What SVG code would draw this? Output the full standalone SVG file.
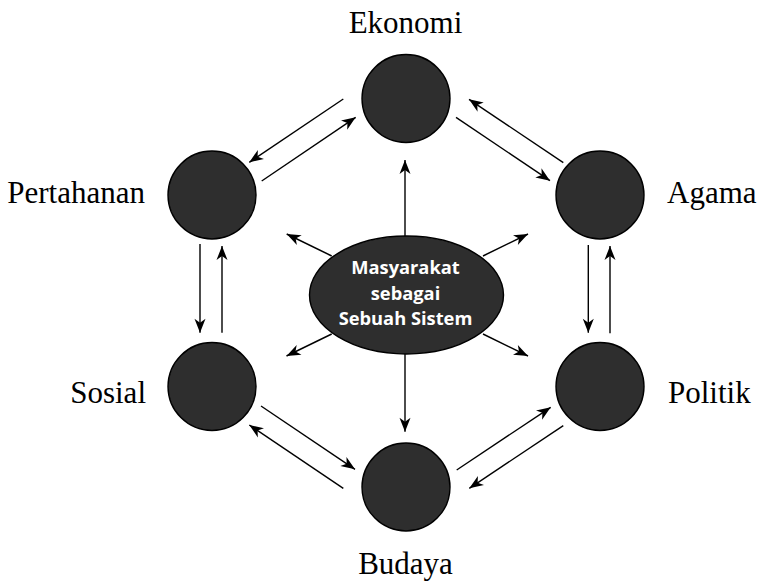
<svg xmlns="http://www.w3.org/2000/svg" width="758" height="582" viewBox="0 0 758 582">
<style>
.node{fill:#2e2e2e;stroke:#000;stroke-width:1.4}
.lbl{font-family:"Liberation Serif","Times New Roman",serif;font-size:31px;fill:#000}
.ctr{font-family:"Open Sans","Liberation Sans",sans-serif;font-weight:700;font-size:18.3px;fill:#fff;text-anchor:middle}
.conn line{stroke:#000;stroke-width:1.4;marker-end:url(#ah)}
</style>
<defs>
<marker id="ah" markerUnits="userSpaceOnUse" markerWidth="16" markerHeight="14" viewBox="-15 -7 16 14" refX="0" refY="0" orient="auto">
<path d="M0,0 L-14,-5.5 L-10,0 L-14,5.5 Z" fill="#000"/>
</marker>
</defs>
<rect width="758" height="582" fill="#fff"/>
<g id="connectors" class="conn">
<line x1="456" y1="117.3" x2="550" y2="180.7"/>
<line x1="563.3" y1="162.7" x2="469" y2="99.3"/>
<line x1="588.3" y1="245" x2="588.3" y2="332.7"/>
<line x1="610" y1="333.3" x2="610" y2="246"/>
<line x1="456.7" y1="470" x2="550.7" y2="407.3"/>
<line x1="563.3" y1="425.7" x2="469.3" y2="488.3"/>
<line x1="261" y1="406" x2="355" y2="469.3"/>
<line x1="343.3" y1="488.3" x2="249.3" y2="425"/>
<line x1="200" y1="244" x2="200" y2="332.7"/>
<line x1="222" y1="332.7" x2="222" y2="246"/>
<line x1="343.3" y1="99" x2="249.3" y2="162.3"/>
<line x1="261.7" y1="181" x2="355.7" y2="117.3"/>
<line x1="405" y1="237" x2="405" y2="160"/>
<line x1="405" y1="354" x2="405" y2="431.7"/>
<line x1="331.7" y1="256" x2="286.7" y2="234"/>
<line x1="483" y1="256" x2="528" y2="234"/>
<line x1="331.7" y1="334" x2="286.5" y2="356"/>
<line x1="483" y1="334" x2="528" y2="356"/>
</g>
<g id="center">
<ellipse cx="406.5" cy="295" rx="97" ry="59" class="node"/>
<text class="ctr" x="405.5" y="274">Masyarakat</text>
<text class="ctr" x="405.5" y="300">sebagai</text>
<text class="ctr" x="405.5" y="325">Sebuah Sistem</text>
</g>
<g id="ekonomi">
<circle cx="406" cy="98.5" r="44" class="node"/>
<text class="lbl" x="405.5" y="32.7" text-anchor="middle">Ekonomi</text>
</g>
<g id="agama">
<circle cx="600" cy="195" r="44" class="node"/>
<text class="lbl" x="667" y="202.7">Agama</text>
</g>
<g id="politik">
<circle cx="600" cy="386.5" r="44" class="node"/>
<text class="lbl" x="668" y="403.3">Politik</text>
</g>
<g id="budaya">
<circle cx="406" cy="487" r="44" class="node"/>
<text class="lbl" x="405.5" y="574.3" text-anchor="middle">Budaya</text>
</g>
<g id="sosial">
<circle cx="212" cy="386.5" r="44" class="node"/>
<text class="lbl" x="146" y="403.3" text-anchor="end">Sosial</text>
</g>
<g id="pertahanan">
<circle cx="212" cy="195" r="44" class="node"/>
<text class="lbl" x="145" y="203" text-anchor="end">Pertahanan</text>
</g>
</svg>
